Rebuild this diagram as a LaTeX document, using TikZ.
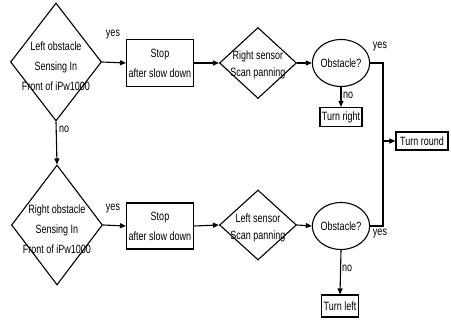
\documentclass[tikz,border=0pt]{standalone}
\usepackage{fontspec}
\setmainfont[FakeStretch=0.75]{Liberation Sans}
\usetikzlibrary{shapes.geometric,arrows.meta}
\begin{document}
\begin{tikzpicture}[x=1pt,y=-1pt,
  txt/.style={font=\fontsize{12}{20}\selectfont,align=center,inner sep=0pt},
  lbl/.style={font=\fontsize{12}{12}\selectfont,inner sep=1pt},
  dia/.style={draw,line width=1.1pt,diamond,inner sep=0pt},
  boxx/.style={draw,line width=1.1pt,rectangle,inner sep=0pt,font=\fontsize{12}{20}\selectfont,align=center},
  obs/.style={draw,line width=1.1pt,ellipse,inner sep=0pt,minimum width=50pt,minimum height=47pt,font=\fontsize{12}{12}\selectfont},
  arr/.style={line width=1.1pt,-{Triangle[length=6pt,width=5pt]}},
  ln/.style={line width=1.1pt}]
\useasboundingbox (0,0) rectangle (451,320);
% top row
\node[dia,minimum width=91pt,minimum height=118pt] (d1) at (56,62) {};
\node[txt] (d1t) at (56,66) {Left obstacle\\Sensing In\\Front of iPw1000};
\node[boxx,minimum width=67pt,minimum height=47pt] (s1) at (160,63) {Stop\\after slow down};
\node[dia,minimum width=77pt,minimum height=71pt] (rs) at (258,63) {};
\node[txt,font=\fontsize{12}{17}\selectfont] (rst) at (258,65) {Right sensor\\Scan panning};
\node[obs] (o1) at (341,63) {Obstacle?};
\node[boxx,minimum width=42pt,minimum height=19pt,font=\fontsize{12}{12}\selectfont] (tr) at (341,117) {Turn right};
\node[boxx,minimum width=52pt,minimum height=18pt,font=\fontsize{12}{12}\selectfont] (rd) at (422,141) {Turn round};
% bottom row
\node[dia,minimum width=91pt,minimum height=120pt] (d2) at (57,225) {};
\node[txt] (d2t) at (57,229) {Right obstacle\\Sensing In\\Front of iPw1000};
\node[boxx,minimum width=67pt,minimum height=46pt] (s2) at (160,226) {Stop\\after slow down};
\node[dia,minimum width=77pt,minimum height=70pt] (ls) at (258,225) {};
\node[txt,font=\fontsize{12}{17}\selectfont] (lst) at (258,228) {Left sensor\\Scan panning};
\node[obs] (o2) at (341,226) {Obstacle?};
\node[boxx,minimum width=37pt,minimum height=22pt,font=\fontsize{12}{12}\selectfont] (tl) at (340,306) {Turn left};
% connectors
\draw[arr] (d1.south) -- (d2.north);
\node[lbl,anchor=west] (n1) at (58,129) {no};
\draw[arr] (d1.east) -- (s1.west);
\node[lbl] (y1) at (113,35) {yes};
\draw[arr] (s1.east) -- (rs.west);
\draw[arr] (rs.east) -- (o1.west);
\draw[arr] (o1.south) -- (tr.north);
\node[lbl,anchor=west] (n2) at (342,95) {no};
\coordinate (c1) at (383,63);
\coordinate (c2) at (383,226);
\coordinate (j) at (383,141);
\draw[ln] (o1.east) -- (c1) -- (c2) -- (o2.east);
\draw[arr] (j) -- (rd.west);
\node[lbl] (y2) at (380,47) {yes};
\draw[arr] (d2.east) -- (s2.west);
\node[lbl] (y3) at (113,209) {yes};
\draw[arr] (s2.east) -- (ls.west);
\draw[arr] (ls.east) -- (o2.west);
\draw[arr] (o2.south) -- (tl.north);
\node[lbl,anchor=west] (n3) at (341,268) {no};
\node[lbl] (y4) at (380,234) {yes};
\end{tikzpicture}
\end{document}
